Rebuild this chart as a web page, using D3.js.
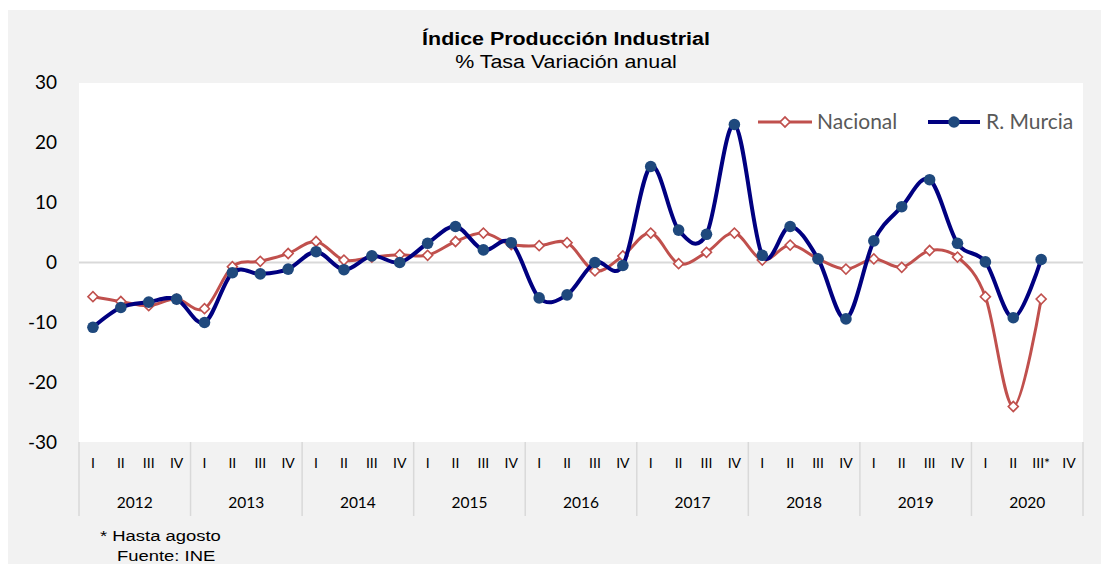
<!DOCTYPE html>
<html lang="es">
<head>
  <meta charset="utf-8">
  <title>Índice Producción Industrial</title>
  <script src="https://d3js.org/d3.v7.min.js"></script>
  <style>
    body { margin: 0; background: #ffffff; }
    svg { display: block; }
  </style>
</head>
<body>
  <svg id="chart" width="1101" height="564"></svg>

<script>
  // datos
  var years = ["2012", "2013", "2014", "2015", "2016", "2017", "2018", "2019", "2020"];
  var quarters = ["I", "II", "III", "IV"];
  var quarterLabels2020 = ["I", "II", "III*", "IV"];
  var yTicks = [30, 20, 10, 0, -10, -20, -30];

  var nacional = [
    -5.7, -6.5, -7.2, -6.1,
    -7.7, -0.7, 0.2, 1.5,
    3.5, 0.4, 0.9, 1.3,
    1.2, 3.5, 4.9, 3.0,
    2.8, 3.3, -1.4, 1.1,
    4.9, -0.2, 1.7, 4.9,
    0.4, 2.9, 0.6, -1.1,
    0.6, -0.8, 2.0, 0.9,
    -5.7, -24.0, -6.1
  ];
  var murcia = [
    -10.8, -7.5, -6.6, -6.1,
    -10.0, -1.7, -1.9, -1.1,
    1.8, -1.2, 1.1, 0.0,
    3.2, 6.0, 2.1, 3.3,
    -5.9, -5.4, 0.0, -0.5,
    16.0, 5.4, 4.7, 23.0,
    1.2, 6.0, 0.6, -9.4,
    3.6, 9.3, 13.8, 3.2,
    0.1, -9.2, 0.5
  ];

  var svg = d3.select("#chart"),
      plotLeft = 79, plotRight = 1083, plotTop = 83, plotBottom = 443;

  // fondo gris del área del gráfico
  svg.append("rect")
    .attr("x", 8).attr("y", 10)
    .attr("width", 1101 - 8).attr("height", 564 - 10)
    .attr("fill", "#f2f2f2");

  svg.append("rect")
    .attr("x", plotLeft).attr("y", plotTop)
    .attr("width", plotRight - plotLeft).attr("height", plotBottom - plotTop - 1)
    .attr("fill", "#ffffff");

  var keys = [];
  years.forEach(function(yr) {
    quarters.forEach(function(q) { keys.push(yr + "-" + q); });
  });

  var x = d3.scaleBand().domain(keys).range([plotLeft, plotRight]);
  var xYear = d3.scaleBand().domain(years).range([plotLeft, plotRight]);
  var y = d3.scaleLinear().domain([-30, 30]).range([plotBottom - 0.5, plotTop - 0.5]);

  // texto Arial algo ensanchado, como en el original
  function arialText(px, py, anchor, size, weight, txt) {
    svg.append("text")
      .attr("transform", "translate(" + px + "," + py + ") scale(1.19,1)")
      .attr("text-anchor", anchor)
      .attr("font-family", "Liberation Sans, Arial, sans-serif")
      .attr("font-weight", weight)
      .attr("font-size", size)
      .text(txt);
  }

  // títulos
  arialText(566, 45, "middle", "18px", "bold", "Índice Producción Industrial");
  arialText(566, 68, "middle", "18px", "normal", "% Tasa Variación anual");

  // eje Y
  var yAxis = svg.append("g")
    .attr("transform", "translate(" + plotLeft + ",0)")
    .call(d3.axisLeft(y).tickValues(yTicks).tickSize(0).tickPadding(22)
      .tickFormat(function(d) { return String(d); }));
  yAxis.select(".domain").remove();
  yAxis.selectAll("text")
    .attr("font-family", "Lato, sans-serif")
    .attr("font-size", "19px")
    .attr("fill", "#000");

  // línea del cero
  svg.append("line")
    .attr("x1", plotLeft).attr("x2", plotRight)
    .attr("y1", y(0)).attr("y2", y(0))
    .attr("stroke", "#d9d9d9")
    .attr("stroke-width", 2);

  // eje X: trimestres y años
  var sepX = years.map(function(yr) { return xYear(yr); }).concat([plotRight]);
  svg.selectAll(".sep")
    .data(sepX)
    .enter().append("line")
    .attr("class", "sep")
    .attr("x1", function(d) { return d; })
    .attr("x2", function(d) { return d; })
    .attr("y1", plotBottom - 1).attr("y2", 516)
    .attr("stroke", "#d9d9d9")
    .attr("stroke-width", 1.5);

  svg.selectAll(".qlab")
    .data(keys)
    .enter().append("text")
    .attr("class", "qlab")
    .attr("x", function(d) { return x(d) + x.bandwidth() / 2; })
    .attr("y", 468)
    .attr("text-anchor", "middle")
    .attr("font-family", "Lato, sans-serif")
    .attr("font-size", "14px")
    .text(function(d) {
      var p = d.split("-");
      return p[0] === "2020" ? quarterLabels2020[quarters.indexOf(p[1])] : p[1];
    });

  svg.selectAll(".ylab")
    .data(years)
    .enter().append("text")
    .attr("class", "ylab")
    .attr("x", function(d) { return xYear(d) + xYear.bandwidth() / 2; })
    .attr("y", 508)
    .attr("text-anchor", "middle")
    .attr("font-family", "Lato, sans-serif")
    .attr("font-size", "15.5px")
    .text(function(d) { return d; });

  // series
  function cx(i) { return x(keys[i]) + x.bandwidth() / 2; }

  var line = d3.line()
    .x(function(d, i) { return cx(i); })
    .y(function(d) { return y(d); })
    .curve(d3.curveCardinal.tension(0));

  svg.append("path")
    .datum(nacional)
    .attr("fill", "none")
    .attr("stroke", "#c0504d")
    .attr("stroke-width", 3)
    .attr("d", line);

  var diamond = d3.symbol().type(d3.symbolSquare).size(50);

  svg.selectAll(".nac")
    .data(nacional)
    .enter().append("path")
    .attr("class", "nac")
    .attr("d", diamond)
    .attr("transform", function(d, i) { return "translate(" + cx(i) + "," + y(d) + ") rotate(45)"; })
    .attr("fill", "#ffffff")
    .attr("stroke", "#c0504d")
    .attr("stroke-width", 1.6);

  svg.append("path")
    .datum(murcia)
    .attr("fill", "none")
    .attr("stroke", "#000080")
    .attr("stroke-width", 4)
    .attr("d", line);

  svg.selectAll(".mur")
    .data(murcia)
    .enter().append("circle")
    .attr("class", "mur")
    .attr("cx", function(d, i) { return cx(i); })
    .attr("cy", function(d) { return y(d); })
    .attr("r", 5.8)
    .attr("fill", "#1f497d");

  // leyenda
  var lg1 = svg.append("g").attr("transform", "translate(758,122)");
  lg1.append("line").attr("x1", 0).attr("x2", 54)
    .attr("stroke", "#c0504d").attr("stroke-width", 3);
  lg1.append("path").attr("d", diamond)
    .attr("transform", "translate(27,0) rotate(45)")
    .attr("fill", "#ffffff").attr("stroke", "#c0504d").attr("stroke-width", 1.6);
  lg1.append("text").attr("x", 59).attr("y", 7)
    .attr("font-family", "Lato, sans-serif").attr("font-size", "21px")
    .attr("fill", "#595959").text("Nacional");

  var lg2 = svg.append("g").attr("transform", "translate(928,122)");
  lg2.append("line").attr("x1", 0).attr("x2", 52)
    .attr("stroke", "#000080").attr("stroke-width", 4);
  lg2.append("circle").attr("cx", 26).attr("cy", 0).attr("r", 5.8)
    .attr("fill", "#1f497d");
  lg2.append("text").attr("x", 58).attr("y", 7)
    .attr("font-family", "Lato, sans-serif").attr("font-size", "21px")
    .attr("fill", "#595959").text("R. Murcia");

  // notas
  arialText(100, 541, "start", "15.5px", "normal", "* Hasta agosto");
  arialText(117, 561, "start", "15.5px", "normal", "Fuente: INE");
</script>
</body>
</html>
